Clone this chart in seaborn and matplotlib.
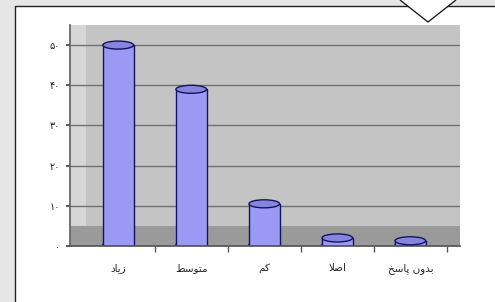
import matplotlib
matplotlib.use("Agg")
import matplotlib.pyplot as plt
from matplotlib.patches import Ellipse, Rectangle
from matplotlib.ticker import FixedLocator
import seaborn as sns
import pandas as pd

# data
categories = ["زیاد", "متوسط", "کم", "اصلا", "بدون پاسخ"]
values = [50, 39, 10.5, 2, 1.3]
ytick_values = [0, 10, 20, 30, 40, 50]
ytick_labels = ["۰", "۱۰", "۲۰", "۳۰", "۴۰", "۵۰"]

# minimal arabic-script shaping (matplotlib has no RTL / joining support)
FORMS = {
    "ا": ("\uFE8D", "\uFE8E", None, None),
    "د": ("\uFEA9", "\uFEAA", None, None),
    "ز": ("\uFEAF", "\uFEB0", None, None),
    "و": ("\uFEED", "\uFEEE", None, None),
    "ی": ("\uFBFC", "\uFBFD", "\uFBFE", "\uFBFF"),
    "م": ("\uFEE1", "\uFEE2", "\uFEE3", "\uFEE4"),
    "ت": ("\uFE95", "\uFE96", "\uFE97", "\uFE98"),
    "س": ("\uFEB1", "\uFEB2", "\uFEB3", "\uFEB4"),
    "ط": ("\uFEC1", "\uFEC2", "\uFEC3", "\uFEC4"),
    "ک": ("\uFB8E", "\uFB8F", "\uFB90", "\uFB91"),
    "ص": ("\uFEB9", "\uFEBA", "\uFEBB", "\uFEBC"),
    "ل": ("\uFEDD", "\uFEDE", "\uFEDF", "\uFEE0"),
    "ب": ("\uFE8F", "\uFE90", "\uFE91", "\uFE92"),
    "ن": ("\uFEE5", "\uFEE6", "\uFEE7", "\uFEE8"),
    "پ": ("\uFB56", "\uFB57", "\uFB58", "\uFB59"),
    "خ": ("\uFEA5", "\uFEA6", "\uFEA7", "\uFEA8"),
}
RIGHT_ONLY = set("ادزو")


def shape(text):
    out = []
    i = 0
    while i < len(text):
        c = text[i]
        if c not in FORMS:
            out.append(c)
            i += 1
            continue
        prev = text[i - 1] if i > 0 else None
        nxt = text[i + 1] if i + 1 < len(text) else None
        join_prev = prev in FORMS and prev not in RIGHT_ONLY
        if c == "ل" and nxt == "ا":
            out.append("\uFEFC" if join_prev else "\uFEFB")
            i += 2
            continue
        join_next = nxt in FORMS and c not in RIGHT_ONLY
        iso, fin, ini, med = FORMS[c]
        if join_prev and join_next:
            out.append(med)
        elif join_prev:
            out.append(fin)
        elif join_next:
            out.append(ini)
        else:
            out.append(iso)
        i += 1
    return "".join(reversed(out))


df = pd.DataFrame({"cat": categories, "val": values})

sns.set_theme(style="white")
plt.rcParams["font.family"] = ["DejaVu Sans"]

fig = plt.figure(figsize=(4.95, 3.02), dpi=100)
fig.patch.set_facecolor("#e6e6e6")
fig.add_artist(Rectangle((15 / 495, -0.01), 1.0, 1 - 6 / 302 + 0.01,
                         transform=fig.transFigure, facecolor="white",
                         edgecolor="#222222", linewidth=1.0, zorder=-10))

ax = fig.add_axes([70 / 495, 56 / 302, 390 / 495, 221 / 302])
ax.set_facecolor("#c4c4c4")

# lighter side wall strip (under grid) + floor band
ax.add_patch(Rectangle((0, 0.09), 0.04, 0.91, transform=ax.transAxes,
                       facecolor="#d6d6d6", edgecolor="none", zorder=0.3))
ax.add_patch(Rectangle((0, 0), 1, 0.09, transform=ax.transAxes,
                       facecolor="#9a9a9a", edgecolor="none", zorder=0.6))

sns.barplot(data=df, x="cat", y="val", color="#9a9af4", width=0.42,
            edgecolor="#14145e", linewidth=1.0, saturation=1, ax=ax, zorder=2)

# cylinder caps
bars = [p for p in ax.patches if p.get_zorder() == 2]
for bar in bars:
    cx = bar.get_x() + bar.get_width() / 2
    h = bar.get_height()
    ax.add_patch(Ellipse((cx, 0.3), bar.get_width(), 2.0, facecolor="#9a9af4",
                         edgecolor="#14145e", linewidth=1.0, zorder=1.9))
    ax.add_patch(Ellipse((cx, h), bar.get_width(), 2.0, facecolor="#8585de",
                         edgecolor="#14145e", linewidth=1.0, zorder=3))

ax.set_xlim(-0.66, 4.68)
ax.set_ylim(0, 55)
ax.set_yticks(ytick_values)
ax.set_yticklabels(ytick_labels, fontsize=7, color="#222222")
ax.set_xticks(range(len(categories)))
ax.set_xticklabels([shape(c) for c in categories], fontsize=7.5, color="#222222")
ax.xaxis.set_minor_locator(FixedLocator([0.5, 1.5, 2.5, 3.5, 4.5]))
ax.set_xlabel("")
ax.set_ylabel("")
ax.yaxis.grid(True, color="#707070", linewidth=1.0)
ax.set_axisbelow(True)
ax.tick_params(axis="x", which="major", length=0, pad=12)
ax.tick_params(axis="x", which="minor", length=4, color="#555555", bottom=True)
ax.tick_params(axis="y", length=3, color="#444444", left=True, pad=4)
for side in ["top", "right"]:
    ax.spines[side].set_visible(False)
ax.spines["left"].set_color("#666666")
ax.spines["bottom"].set_color("#555555")

# callout pointer at top right
fig.add_artist(plt.Polygon([[400 / 495, 1.0], [428 / 495, 1 - 22 / 302], [456 / 495, 1.0]],
                           closed=False, transform=fig.transFigure,
                           facecolor="white", edgecolor="#222222", linewidth=1.0))

fig.savefig("out.png", dpi=100)
